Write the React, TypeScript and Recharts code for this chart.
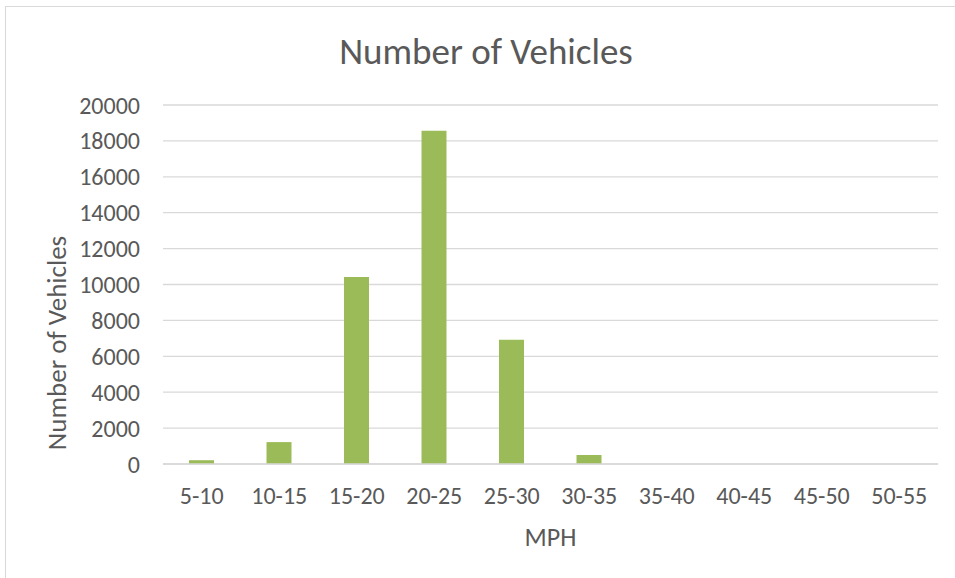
import { Bar, BarChart, CartesianGrid, XAxis, YAxis } from 'recharts'

const SPEED_BANDS = ['5-10', '10-15', '15-20', '20-25', '25-30', '30-35', '35-40', '40-45', '45-50', '50-55']
const VEHICLE_COUNTS = [210, 1220, 10420, 18560, 6920, 500, 0, 0, 0, 0]
const Y_TICKS = [0, 2000, 4000, 6000, 8000, 10000, 12000, 14000, 16000, 18000, 20000]

const BAR_COLOUR = '#9bbb59'
const GRID_COLOUR = '#d9d9d9'
const TEXT_COLOUR = '#595959'
const FONT = "Carlito, Calibri, 'Open Sans', sans-serif"

const data = SPEED_BANDS.map((band, index) => ({ band, count: VEHICLE_COUNTS[index] }))

export default function App() {
  return (
    <div style={{ position: 'absolute', left: 0, top: 0, width: 955, height: 578, background: '#fff', overflow: 'hidden' }}>
      <div
        style={{
          position: 'absolute',
          left: 5,
          top: 6,
          width: 980,
          height: 600,
          border: `1px solid ${GRID_COLOUR}`,
        }}
      />
      <div
        style={{
          position: 'absolute',
          left: 0,
          top: 30,
          width: 972,
          textAlign: 'center',
          fontFamily: FONT,
          fontSize: 37,
          lineHeight: '44px',
          color: TEXT_COLOUR,
        }}
      >
        Number of Vehicles
      </div>
      <div style={{ position: 'absolute', left: 0, top: 0 }}>
        <BarChart width={955} height={578} data={data} margin={{ top: 105, right: 17, left: 0, bottom: 0 }}>
          <CartesianGrid vertical={false} stroke={GRID_COLOUR} strokeWidth={1.3} />
          <XAxis
            dataKey="band"
            height={114}
            tickSize={0}
            tickMargin={23}
            axisLine={{ stroke: GRID_COLOUR, strokeWidth: 1.3 }}
            tickLine={false}
            tick={{ fill: TEXT_COLOUR, fontSize: 24, fontFamily: FONT }}
            label={{ value: 'MPH', position: 'insideBottom', offset: 32, fill: TEXT_COLOUR, fontSize: 26, fontFamily: FONT }}
          />
          <YAxis
            width={163}
            domain={[0, 20000]}
            ticks={Y_TICKS}
            interval={0}
            tickSize={0}
            tickMargin={23}
            axisLine={false}
            tickLine={false}
            tick={{ fill: TEXT_COLOUR, fontSize: 24, fontFamily: FONT }}
            label={{
              value: 'Number of Vehicles',
              angle: -90,
              position: 'insideLeft',
              offset: 0,
              content: () => (
                <text
                  x={56}
                  y={343}
                  transform="rotate(-90 56 343)"
                  textAnchor="middle"
                  dominantBaseline="central"
                  fill={TEXT_COLOUR}
                  fontSize={27}
                  fontFamily={FONT}
                >
                  Number of Vehicles
                </text>
              ),
            }}
          />
          <Bar dataKey="count" fill={BAR_COLOUR} barSize={25} isAnimationActive={false} />
        </BarChart>
      </div>
    </div>
  )
}
